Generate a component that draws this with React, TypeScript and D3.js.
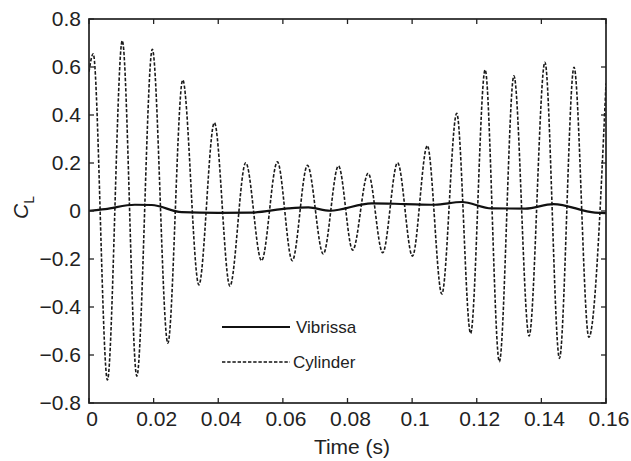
import React from "react";
import * as d3 from "d3";

// Cylinder C_L: extrema (time s, value)
const cylTime = [0, 0.0013, 0.0057, 0.0103, 0.0148, 0.0196, 0.0244, 0.029, 0.034, 0.0388, 0.0436, 0.0485, 0.0534, 0.0583, 0.0629, 0.0676, 0.0725, 0.0772, 0.0816, 0.0864, 0.0909, 0.0955, 0.1001, 0.1047, 0.1092, 0.1138, 0.1181, 0.1226, 0.127, 0.1315, 0.1362, 0.1411, 0.1456, 0.1501, 0.1547, 0.16];
const cylValue = [0.58, 0.655, -0.704, 0.71, -0.688, 0.674, -0.551, 0.546, -0.308, 0.368, -0.313, 0.201, -0.207, 0.205, -0.207, 0.19, -0.179, 0.188, -0.163, 0.157, -0.174, 0.201, -0.188, 0.272, -0.346, 0.407, -0.51, 0.588, -0.628, 0.563, -0.521, 0.62, -0.614, 0.599, -0.526, 0.532];

// Vibrissa C_L
const vibTime = [0, 0.005, 0.0142, 0.0194, 0.0287, 0.04, 0.05, 0.0617, 0.0679, 0.0746, 0.0875, 0.0978, 0.107, 0.1153, 0.1246, 0.135, 0.1437, 0.1566, 0.16];
const vibValue = [0.001, 0.008, 0.026, 0.025, -0.005, -0.008, -0.007, 0.011, 0.015, 0.001, 0.032, 0.029, 0.026, 0.0375, 0.011, 0.01, 0.029, -0.007, -0.009];

const xTicks = [0, 0.02, 0.04, 0.06, 0.08, 0.1, 0.12, 0.14, 0.16];
const xTickLabels = ["0", "0.02", "0.04", "0.06", "0.08", "0.1", "0.12", "0.14", "0.16"];
const yTicks = [-0.8, -0.6, -0.4, -0.2, 0, 0.2, 0.4, 0.6, 0.8];
const yTickLabels = ["\u22120.8", "\u22120.6", "\u22120.4", "\u22120.2", "0", "0.2", "0.4", "0.6", "0.8"];
const seriesNames = ["Vibrissa", "Cylinder"];

const W = 631;
const H = 461;
const left = 89;
const right = 606;
const top = 19;
const bottom = 403;
const FONT = "'Liberation Sans', Arial, Helvetica, sans-serif";

export default function App() {
  const x = d3.scaleLinear().domain([0, 0.16]).range([left, right]);
  const y = d3.scaleLinear().domain([-0.8, 0.8]).range([bottom, top]);

  const line = d3
    .line<[number, number]>()
    .x((d) => x(d[0]))
    .y((d) => y(d[1]))
    .curve(d3.curveMonotoneX);

  const cyl: [number, number][] = cylTime.map((t, i) => [t, cylValue[i]]);
  const vib: [number, number][] = vibTime.map((t, i) => [t, vibValue[i]]);

  const tickLen = 5;
  const dash = "3.4,1.8";

  return (
    <svg
      width={W}
      height={H}
      style={{ position: "absolute", left: 0, top: 0, background: "#fff" }}
      fontFamily={FONT}
    >
      <rect x={0} y={0} width={W} height={H} fill="#fff" />
      <defs>
        <clipPath id="plotclip">
          <rect x={left} y={top} width={right - left} height={bottom - top} />
        </clipPath>
      </defs>

      <g clipPath="url(#plotclip)">
        <path d={line(cyl) || ""} fill="none" stroke="#1a1a1a" strokeWidth={1.6} strokeDasharray={dash} />
        <path d={line(vib) || ""} fill="none" stroke="#111" strokeWidth={2.2} />
      </g>

      {/* ticks */}
      {xTicks.map((t, i) => (
        <g key={"xt" + i}>
          <line x1={x(t)} x2={x(t)} y1={bottom} y2={bottom - tickLen} stroke="#222" strokeWidth={1.3} />
          <line x1={x(t)} x2={x(t)} y1={top} y2={top + tickLen} stroke="#222" strokeWidth={1.3} />
          <text x={x(t) + 3} y={bottom + 23} fontSize={21} textAnchor="middle" fill="#222">
            {xTickLabels[i]}
          </text>
        </g>
      ))}
      {yTicks.map((t, i) => (
        <g key={"yt" + i}>
          <line x1={left} x2={left + tickLen} y1={y(t)} y2={y(t)} stroke="#222" strokeWidth={1.3} />
          <line x1={right} x2={right - tickLen} y1={y(t)} y2={y(t)} stroke="#222" strokeWidth={1.3} />
          <text x={left - 8} y={y(t) + 7} fontSize={21} textAnchor="end" fill="#222">
            {yTickLabels[i]}
          </text>
        </g>
      ))}

      <rect x={left} y={top} width={right - left} height={bottom - top} fill="none" stroke="#222" strokeWidth={1.7} />

      {/* legend */}
      <line x1={222} x2={290} y1={327} y2={327} stroke="#111" strokeWidth={2} />
      <text x={296} y={333} fontSize={17} fill="#222">{seriesNames[0]}</text>
      <line x1={222} x2={290} y1={362} y2={362} stroke="#111" strokeWidth={1.4} strokeDasharray={dash} />
      <text x={293} y={368} fontSize={17} fill="#222">{seriesNames[1]}</text>

      {/* axis labels */}
      <text x={352} y={454} fontSize={21} textAnchor="middle" fill="#222">Time (s)</text>
      <text transform="translate(28,219) rotate(-90)" fontSize={21} fill="#222">
        <tspan fontStyle="italic">C</tspan>
        <tspan fontSize={14} dy={6}>L</tspan>
      </text>
    </svg>
  );
}
